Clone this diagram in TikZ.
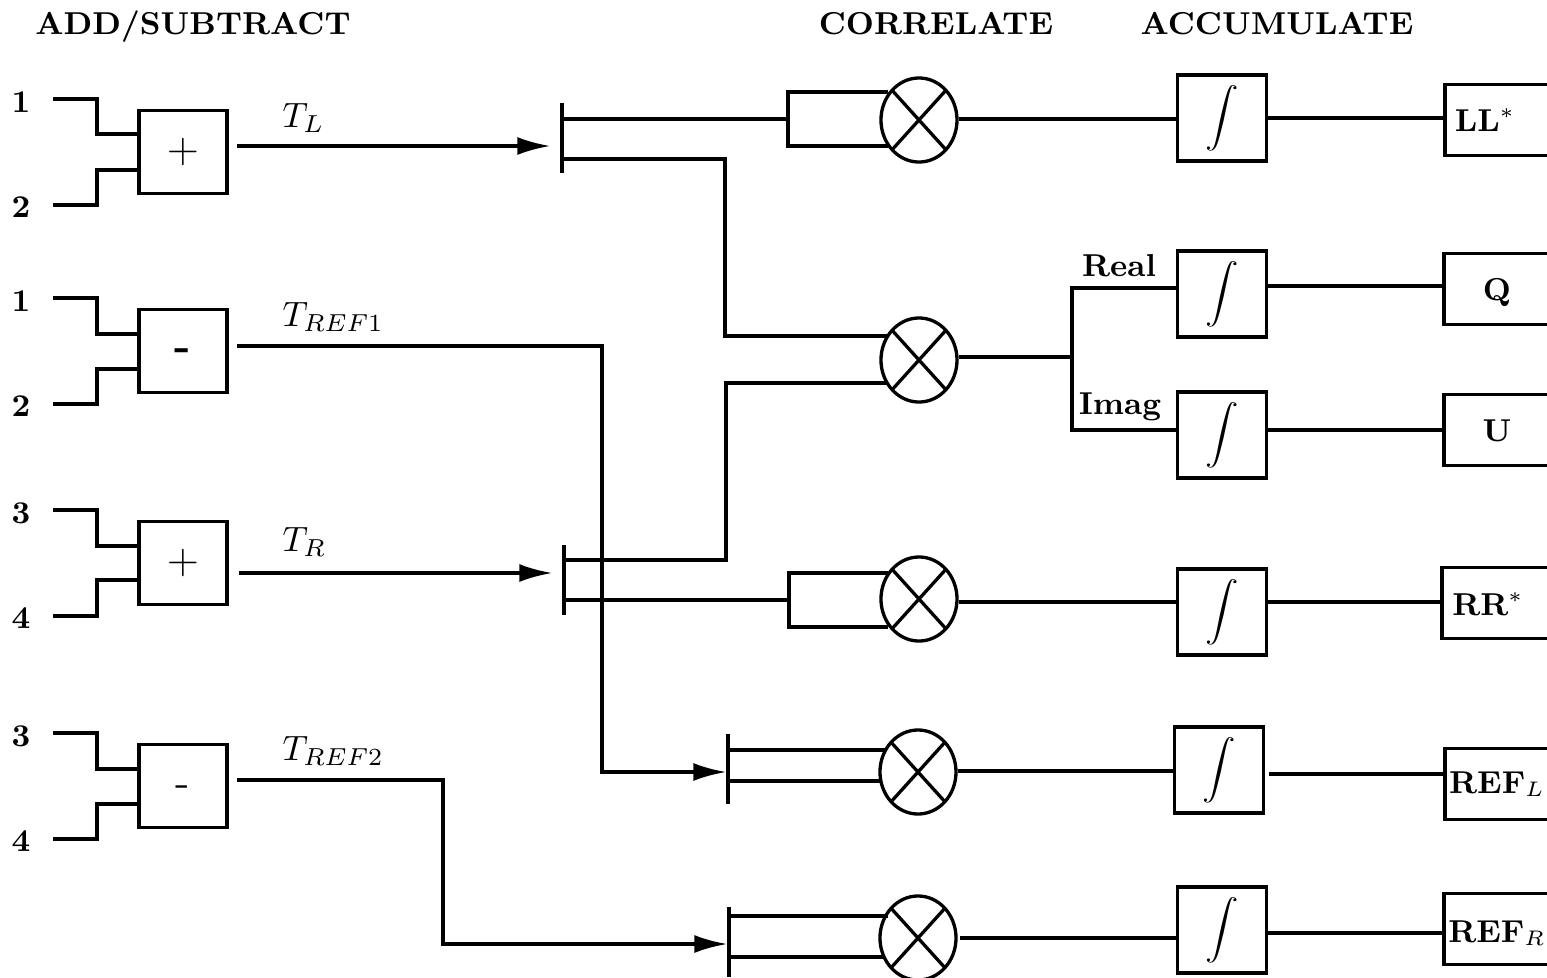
\documentclass[tikz,border=0pt]{standalone}
\usepackage{amsmath}
\usepackage{amssymb}
\usepackage{graphicx}
\usetikzlibrary{arrows.meta,shapes.geometric}
\newcommand{\intsym}{\raisebox{-1.4pt}{\scalebox{0.95}[0.84]{$\boldsymbol{\displaystyle\int}$}}}
\tikzset{
  wire/.style={line width=0.033cm},
  flow/.style={wire,-{Latex[length=0.33cm,width=0.18cm]}},
  sumbox/.style={draw,wire,minimum width=0.88cm,minimum height=0.83cm,inner sep=0pt,outer sep=0pt,font=\fontsize{12.5}{14}\selectfont},
  intbox/.style={draw,wire,minimum width=0.89cm,minimum height=0.86cm,inner sep=0pt,outer sep=0pt},
  outbox/.style={draw,wire,minimum width=1.30cm,minimum height=0.71cm,anchor=west,inner sep=0pt,outer sep=0pt},
  splitbar/.style={fill=black,minimum width=0.033cm,minimum height=0.69cm,inner sep=0pt,outer sep=0pt},
  mult/.style={draw,wire,ellipse,minimum width=0.76cm,minimum height=0.84cm,inner sep=0pt,
    path picture={\draw[wire] (path picture bounding box.north west)--(path picture bounding box.south east);
    \draw[wire] (path picture bounding box.north east)--(path picture bounding box.south west);}},
  boldtxt/.style={inner sep=0pt,font=\fontsize{9}{11}\selectfont\bfseries},
  headtxt/.style={boldtxt,anchor=base},
  mathtxt/.style={inner sep=0pt,anchor=base west,font=\fontsize{10}{12}\selectfont}
}
\begin{document}
\begin{tikzpicture}[x=0.01cm,y=-0.01cm]
   \useasboundingbox (0,0) rectangle (1547,978);
   \clip (0,0) rectangle (1547,978);
   % headers
   \node[headtxt] (hadd) at (193,34) {ADD/SUBTRACT};
   \node[headtxt] (hcorr) at (936,34) {CORRELATE};
   \node[headtxt] (hacc) at (1277,34) {ACCUMULATE};
   % add/subtract groups
   \foreach \g/\la/\lb/\cy/\ya/\yb/\yc/\yd/\sym/\ox/\oy/\ty/\tname in {
      A/1/2/152/99/134/205/170/\raisebox{-1.2pt}{$+$}/237/146/127/T_L,
      B/1/2/351/298/334/404/369/\raisebox{-2.7pt}[0pt][0pt]{\textbf{-}}/237/346/326/T_{REF1},
      C/3/4/563/510/546/616/580/$+$/239/573/551/T_R,
      D/3/4/786/733/769/839/804/\raisebox{-3pt}[0pt][0pt]{-}/237/780/760/T_{REF2}}{
      \node[sumbox] (sum\g) at (183,\cy) {\sym};
      \node[boldtxt] (lab\g a) at (21,\ya+3) {\la};
      \node[boldtxt] (lab\g b) at (21,\yc+2) {\lb};
      \coordinate (in\g a) at (53,\ya);
      \coordinate (in\g b) at (53,\yc);
      \coordinate (out\g) at (\ox,\oy);
      \draw[wire] (in\g a) -- (97,\ya) |- (sum\g.west |- 0,\yb);
      \draw[wire] (in\g b) -- (97,\yc) |- (sum\g.west |- 0,\yd);
      \node[mathtxt] (t\g) at (282,\ty) {$\tname$};
   }
   % splitters
   \node[splitbar] (barA) at (562,138) {};
   \node[splitbar] (barC) at (564,580) {};
   \node[splitbar] (barB) at (728,769) {};
   \node[splitbar] (barD) at (729,942) {};
   % multipliers
   \node[mult] (mult1) at (919,120) {};
   \node[mult] (mult2) at (919,360) {};
   \node[mult] (mult3) at (919,599) {};
   \node[mult] (mult4) at (918,772) {};
   \node[mult] (mult5) at (918,938) {};
   % integrators
   \node[intbox] (int1) at (1222,118) {\intsym};
   \node[intbox] (int2) at (1222,294) {\intsym};
   \node[intbox] (int3) at (1222,435) {\intsym};
   \node[intbox] (int4) at (1222,612) {\intsym};
   \node[intbox] (int5) at (1219,770) {\intsym};
   \node[intbox] (int6) at (1222,930) {\intsym};
   % outputs
   \node[outbox] (outLL) at (1445,120) {};
   \node[outbox] (outQ) at (1444,289) {};
   \node[outbox] (outU) at (1444,430) {};
   \node[outbox] (outRR) at (1442,603) {};
   \node[outbox] (outRL) at (1445,784) {};
   \node[outbox] (outRR2) at (1444,929) {};
   \node[boldtxt] (tLL) at (1485,120) {LL$^*$};
   \node[boldtxt] (tQ) at (1497,293) {Q};
   \node[boldtxt] (tU) at (1497,431) {U};
   \node[boldtxt] (tRR) at (1488,604) {RR$^*$};
   \node[boldtxt] (tRL) at (1497,784) {REF$_L$};
   \node[boldtxt] (tRR2) at (1497,933) {REF$_R$};
   % summed signals
   \draw[flow,shorten >=0.10cm] (outA) -- (barA.west |- outA);
   \draw[flow,shorten >=0.10cm] (outC) -- (barC.west |- outC);
   \draw[flow] (outB) -- (602,346) |- (barB.west |- 0,772);
   \draw[flow] (outD) -- (443,780) |- (barD.west |- 0,944);
   % splitters to multipliers
   \draw[wire] (barA.east |- 0,119) -- (788,119);
   \draw[wire] (888,92) -- (788,92) -- (788,146) -- (888,146);
   \draw[wire] (barA.east |- 0,159) -- (725,159) |- (888,336);
   \draw[wire] (barC.east |- 0,560) -- (726,560) |- (888,383);
   \draw[wire] (barC.east |- 0,600) -- (789,600);
   \draw[wire] (888,573) -- (789,573) -- (789,627) -- (888,627);
   \draw[wire] (barB.east |- 0,750) -- (885,750);
   \draw[wire] (barB.east |- 0,781) -- (882,781);
   \draw[wire] (barD.east |- 0,916) -- (888,916);
   \draw[wire] (barD.east |- 0,957) -- (885,957);
   % multipliers to integrators
   \draw[wire] (mult1.east |- 0,119) -- (int1.west |- 0,119);
   \draw[wire] (mult2.east |- 0,357) -- (1072,357);
   \draw[wire] (int2.west |- 0,288) -- (1072,288) -- (1072,430) -- (int3.west |- 0,430);
   \draw[wire] (mult3.east |- 0,602) -- (int4.west |- 0,602);
   \draw[wire] (mult4.east |- 0,771) -- (int5.west |- 0,771);
   \draw[wire] ([xshift=0.02cm]mult5.east) -- (int6.west |- mult5.east);
   \node[boldtxt] (treal) at (1119,266) {Real};
   \node[boldtxt] (timag) at (1120,407) {Imag};
   % integrators to outputs
   \draw[wire] (int1.east |- 0,118) -- (outLL.west |- 0,118);
   \draw[wire] (int2.east |- 0,286) -- (outQ.west |- 0,286);
   \draw[wire] (int3.east |- 0,430) -- (outU.west |- 0,430);
   \draw[wire] (int4.east |- 0,602) -- (outRR.west |- 0,602);
   \draw[wire] ([xshift=0.05cm]int5.east |- 0,774) -- (outRL.west |- 0,774);
   \draw[wire] (int6.east |- 0,933) -- (outRR2.west |- 0,933);
\end{tikzpicture}
\end{document}
